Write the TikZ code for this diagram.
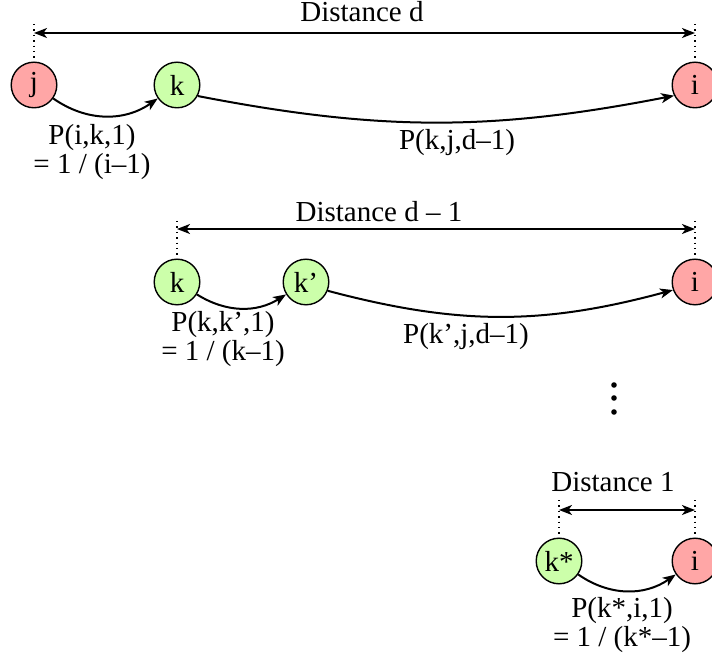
\documentclass[tikz,border=0pt]{standalone}
\usepackage{fontspec}
\setmainfont{Liberation Serif}
\usetikzlibrary{arrows.meta}
\definecolor{nodered}{RGB}{255,166,166}
\definecolor{nodegreen}{RGB}{204,255,170}
\tikzset{
  state/.style={circle,draw,line width=0.7pt,minimum size=22.8pt,inner sep=0pt},
  bad/.style={state,fill=nodered},
  good/.style={state,fill=nodegreen},
  hop/.style={-{Stealth[length=6.5pt,width=5pt,inset=1.8pt]},line width=1pt},
  span/.style={{Stealth[length=6.5pt,width=5pt,inset=1.8pt]}-{Stealth[length=6.5pt,width=5pt,inset=1.8pt]},line width=0.8pt},
  tick/.style={dotted,line width=0.7pt},
  lbl/.style={align=center,inner sep=0pt,font=\fontsize{14.5}{12.8}\selectfont}
}
\begin{document}
\begin{tikzpicture}[x=0.5pt,y=-0.5pt,font=\fontsize{14.5}{16}\selectfont]
  \useasboundingbox (0,0) rectangle (712,662);

  \node[bad]  (j1) at (34,85)  {j};
  \node[good] (k1) at (177,85) {k};
  \node[bad]  (i1) at (695,85) {i};
  \coordinate (a1) at (34,33);
  \coordinate (b1) at (695,33);
  \coordinate (ta1) at (34,24);
  \coordinate (tb1) at (695,24);
  \draw[tick] (ta1)--(j1.north);
  \draw[tick] (tb1)--(i1.north);
  \draw[span] (a1)--(b1);
  \node[lbl] (d1) at (362,12) {Distance d};
  \draw[hop] (j1) to[bend right=35] (k1);
  \draw[hop] (k1.-28) to[bend right=11] (i1.-153);
  \node[lbl] (p1) at (92,152) {P(i,k,1)\\= 1 / (i--1)};
  \node[lbl] (q1) at (457,143) {P(k,j,d--1)};

  \node[good] (k2) at (177,282) {k};
  \node[good] (kk2) at (306,282) {k'};
  \node[bad]  (i2) at (695,282) {i};
  \coordinate (a2) at (177,229);
  \coordinate (b2) at (695,229);
  \coordinate (ta2) at (177,221);
  \coordinate (tb2) at (695,221);
  \draw[tick] (ta2)--(k2.north);
  \draw[tick] (tb2)--(i2.north);
  \draw[span] (a2)--(b2);
  \node[lbl] (d2) at (379,212) {Distance d -- 1};
  \draw[hop] (k2) to[bend right=32] (kk2);
  \draw[hop] (kk2.-22) to[bend right=15] (i2.-160);
  \node[lbl] (p2) at (223,339) {P(k,k',1)\\= 1 / (k--1)};
  \node[lbl] (q2) at (466,337) {P(k',j,d--1)};

  \foreach \y in {385,398,412}
    \fill (614,\y) circle (1.4pt);

  \node[good] (k3) at (559,561) {k*};
  \node[bad]  (i3) at (695,561) {i};
  \coordinate (a3) at (559,510);
  \coordinate (b3) at (695,510);
  \coordinate (ta3) at (559,500);
  \coordinate (tb3) at (695,500);
  \draw[tick] (ta3)--(k3.north);
  \draw[tick] (tb3)--(i3.north);
  \draw[span] (a3)--(b3);
  \node[lbl] (d3) at (613,482) {Distance 1};
  \draw[hop] (k3) to[bend right=35] (i3);
  \node[lbl] (p3) at (622,625) {P(k*,i,1)\\= 1 / (k*--1)};
\end{tikzpicture}
\end{document}
